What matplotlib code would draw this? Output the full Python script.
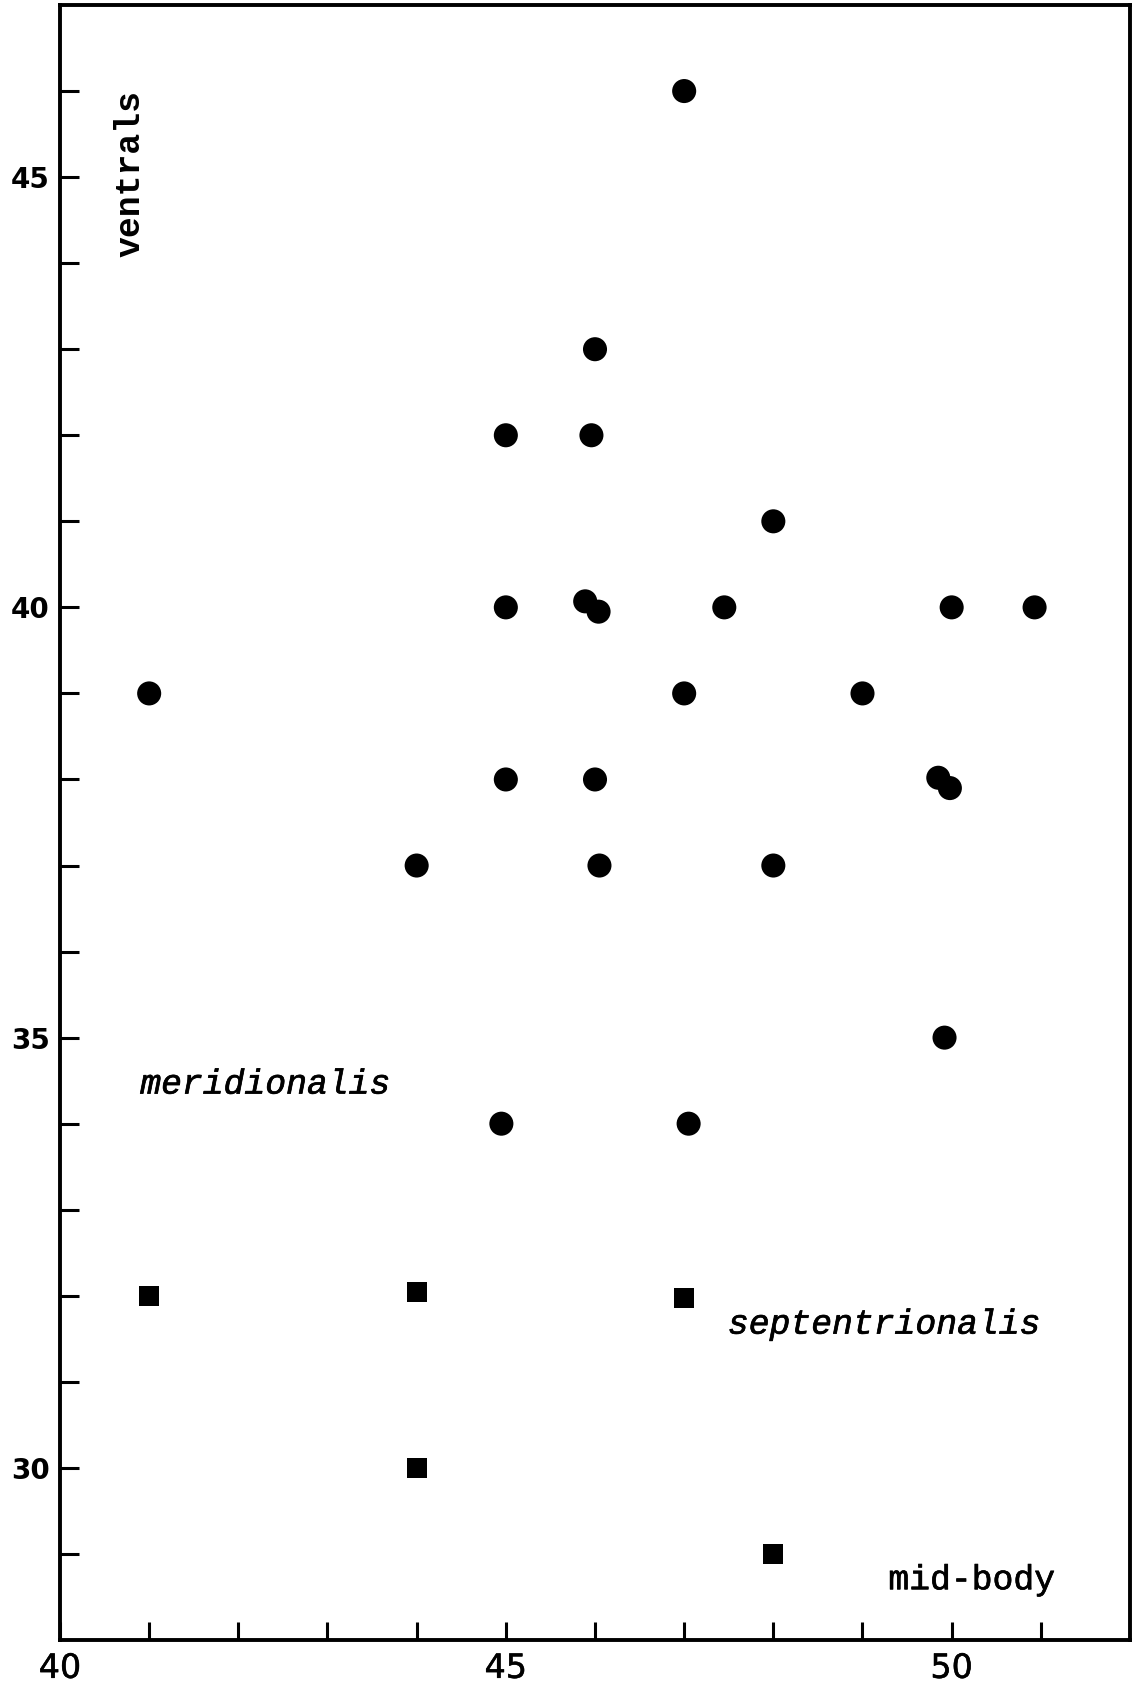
import matplotlib
matplotlib.use("Agg")
import matplotlib.pyplot as plt
import matplotlib.patheffects as pe

# meridionalis (circles): mid-body scale rows (x) vs ventrals (y)
circle_x = [47, 46, 45, 45.96, 48, 45, 45.89, 46.04, 47.45, 50, 50.93,
            41, 47, 49, 45, 46, 49.85, 49.98, 44, 46.05, 48, 49.92, 44.95, 47.05]
circle_y = [46, 43, 42, 42, 41, 40, 40.07, 39.95, 40, 40, 40,
            39, 39, 39, 38, 38, 38.02, 37.9, 37, 37, 37, 35, 34, 34]

# septentrionalis (squares)
square_x = [41, 44, 47, 44, 48]
square_y = [32, 32.04, 31.97, 30, 29]

x_major = [40, 45, 50]
x_minor = list(range(41, 52))
y_major = [30, 35, 40, 45]
y_minor = list(range(29, 47))

fig = plt.figure(figsize=(11.41, 16.85), dpi=100)
ax = fig.add_axes([60 / 1141, 45 / 1685, 1070 / 1141, 1635 / 1685])

ax.scatter(circle_x, circle_y, s=300, marker='o', color='black',
           edgecolors='none', zorder=3)
ax.scatter(square_x, square_y, s=210, marker='s', color='black',
           edgecolors='none', zorder=3)

ax.set_xlim(40, 52)
ax.set_ylim(28, 47)

for sp in ax.spines.values():
    sp.set_linewidth(2.8)
    sp.set_color('black')

ax.set_xticks(x_major)
ax.set_xticks([v for v in x_minor if v not in x_major], minor=True)
ax.set_yticks(y_major)
ax.set_yticks([v for v in y_minor if v not in y_major], minor=True)
ax.set_xticklabels([str(v) for v in x_major])
ax.set_yticklabels([str(v) for v in y_major])

ax.tick_params(axis='x', which='both', direction='in', length=13, width=2.2,
               pad=8.5, labelsize=24)
ax.tick_params(axis='y', which='both', direction='in', length=14, width=2.2,
               pad=7.5, labelsize=20)
for lab in ax.get_yticklabels():
    lab.set_fontweight('bold')
for lab in ax.get_xticklabels():
    lab.set_fontfamily('DejaVu Sans')
    lab.set_path_effects([pe.withStroke(linewidth=0.4, foreground='black')])

mono = 'Liberation Mono'
thick = [pe.withStroke(linewidth=0.5, foreground='black')]
ax.text(40.79, 45.04, 'ventrals', rotation=90, ha='center', va='center',
        fontsize=25, fontfamily=mono, fontweight='bold')
ax.text(40.9, 34.35, 'meridionalis', ha='left', va='baseline',
        fontsize=25, fontfamily=mono, fontstyle='italic', path_effects=thick)
ax.text(47.49, 31.56, 'septentrionalis', ha='left', va='baseline',
        fontsize=25, fontfamily=mono, fontstyle='italic', path_effects=thick)
ax.text(49.29, 28.59, 'mid-body', ha='left', va='baseline',
        fontsize=25, fontfamily=mono, path_effects=thick)

fig.savefig('out.png', dpi=100, facecolor='white')
